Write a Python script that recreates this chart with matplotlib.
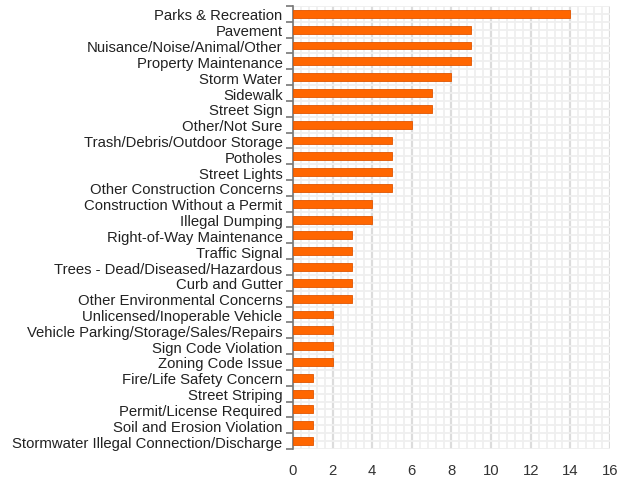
import numpy as np
import matplotlib.pyplot as plt
from matplotlib.ticker import MultipleLocator, FixedLocator

plt.rcParams['font.family'] = ['Liberation Sans', 'DejaVu Sans']

categories = [
    "Parks & Recreation", "Pavement", "Nuisance/Noise/Animal/Other",
    "Property Maintenance", "Storm Water", "Sidewalk", "Street Sign",
    "Other/Not Sure", "Trash/Debris/Outdoor Storage", "Potholes",
    "Street Lights", "Other Construction Concerns",
    "Construction Without a Permit", "Illegal Dumping",
    "Right-of-Way Maintenance", "Traffic Signal",
    "Trees - Dead/Diseased/Hazardous", "Curb and Gutter",
    "Other Environmental Concerns", "Unlicensed/Inoperable Vehicle",
    "Vehicle Parking/Storage/Sales/Repairs", "Sign Code Violation",
    "Zoning Code Issue", "Fire/Life Safety Concern", "Street Striping",
    "Permit/License Required", "Soil and Erosion Violation",
    "Stormwater Illegal Connection/Discharge",
]
counts = [14, 9, 9, 9, 8, 7, 7, 6, 5, 5, 5, 5, 4, 4, 3, 3, 3, 3, 3,
          2, 2, 2, 2, 1, 1, 1, 1, 1]

fig = plt.figure(figsize=(6.19, 4.85), dpi=100)
ax = fig.add_axes([0.4733, 0.0722, 0.5122, 0.9134])

pos = np.arange(len(categories))
ax.barh(pos, counts, height=0.5, color='#ff6600', edgecolor='#e05500',
        linewidth=0.6, zorder=3)

ax.set_xlim(0, 16)
ax.set_ylim(len(categories) - 0.5, -0.5)

# x grid: major every 2, minor every 0.4
ax.xaxis.set_major_locator(MultipleLocator(2))
ax.xaxis.set_minor_locator(MultipleLocator(0.4))
ax.grid(axis='x', which='major', color='#dcdcdc', linewidth=1.6, zorder=0)
ax.grid(axis='x', which='minor', color='#efefef', linewidth=1.3, zorder=0)

# y: labels at centers, ticks at boundaries
ax.set_yticks(pos)
ax.set_yticklabels(categories)
ax.yaxis.set_minor_locator(FixedLocator(np.arange(-0.5, len(categories), 1)))
ax.grid(axis='y', which='both', color='#efefef', linewidth=1.3, zorder=0)

ax.tick_params(axis='y', which='major', length=0, pad=7.5, labelsize=10.7,
               labelcolor='#222222')
ax.tick_params(axis='y', which='minor', length=5, width=1.2, color='#777777')
ax.tick_params(axis='x', which='both', length=0, pad=10, labelsize=10.7,
               labelcolor='#333333')

for s in ['top', 'right', 'bottom']:
    ax.spines[s].set_visible(False)
ax.spines['left'].set_color('#777777')
ax.spines['left'].set_linewidth(1.2)

fig.savefig('out.png', dpi=100)
